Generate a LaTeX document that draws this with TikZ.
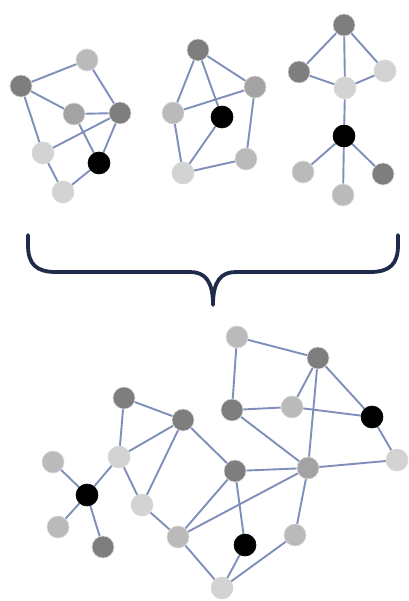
\documentclass[tikz,border=0pt]{standalone}
\usetikzlibrary{backgrounds}
\definecolor{edgeblue}{HTML}{7F8FBA}
\definecolor{bracenavy}{HTML}{1E2B4B}
\definecolor{gdark}{HTML}{7E7E7E}
\definecolor{gmid}{HTML}{A3A3A3}
\definecolor{glight}{HTML}{BABABA}
\definecolor{gpale}{HTML}{D3D3D3}
\tikzset{
  vtx/.style={circle, minimum size=22pt, inner sep=0pt, draw=white!85!black, line width=0.6pt},
  vdark/.style={vtx, fill=gdark},
  vmid/.style={vtx, fill=gmid},
  vlight/.style={vtx, fill=glight},
  vpale/.style={vtx, fill=gpale},
  vblack/.style={vtx, fill=black, draw=black},
  link/.style={draw=edgeblue, line width=1.9pt},
  bracket/.style={draw=bracenavy, line width=3.8pt, line cap=round, line join=round}
}
\begin{document}
\begin{tikzpicture}[x=1pt,y=-1pt]
\useasboundingbox (0,0) rectangle (408,601);

% ---- first small graph
\node[vlight] (A) at (87,60) {};
\node[vdark]  (B) at (21,86) {};
\node[vmid]   (C) at (74,114) {};
\node[vdark]  (D) at (120,113) {};
\node[vpale]  (E) at (43,153) {};
\node[vblack] (F) at (99,163) {};
\node[vpale]  (G) at (63,192) {};

% ---- second small graph
\node[vdark]  (H) at (198,50) {};
\node[vmid]   (I) at (255,87) {};
\node[vlight] (J) at (173,113) {};
\node[vblack] (K) at (222,117) {};
\node[vlight] (L) at (246,159) {};
\node[vpale]  (M) at (183,173) {};

% ---- third small graph
\node[vdark]  (N) at (344,25) {};
\node[vdark]  (O) at (299,72) {};
\node[vpale]  (P) at (385,71) {};
\node[vpale]  (Q) at (345,88) {};
\node[vblack] (R) at (344,136) {};
\node[vlight] (S) at (303,172) {};
\node[vlight] (T) at (343,195) {};
\node[vdark]  (U) at (383,174) {};

% ---- combined graph
\node[vlight] (a) at (53,462) {};
\node[vblack] (b) at (87,495) {};
\node[vlight] (c) at (58,527) {};
\node[vdark]  (d) at (103,547) {};
\node[vpale]  (e) at (119,457) {};
\node[vdark]  (f) at (124,398) {};
\node[vdark]  (g) at (183,420) {};
\node[vpale]  (h) at (142,505) {};
\node[vlight] (i) at (178,537) {};
\node[vpale]  (j) at (222,588) {};
\node[vlight] (k) at (237,337) {};
\node[vdark]  (l) at (318,358) {};
\node[vdark]  (m) at (232,410) {};
\node[vlight] (n) at (292,407) {};
\node[vblack] (o) at (372,417) {};
\node[vpale]  (p) at (397,460) {};
\node[vdark]  (q) at (235,471) {};
\node[vmid]   (r) at (308,468) {};
\node[vblack] (s) at (245,545) {};
\node[vlight] (t) at (295,535) {};

\begin{scope}[on background layer]
  \fill[white] (0,0) rectangle (408,601);
  % first graph
  \path[link] (B) -- (A) (A) -- (D) (B) -- (C) (C) -- (D) (B) -- (E)
              (E) -- (D) (C) -- (F) (D) -- (F) (E) -- (G) (G) -- (F);
  % second graph
  \path[link] (H) -- (I) (H) -- (J) (H) -- (K) (J) -- (I) (I) -- (L)
              (J) -- (M) (M) -- (K) (M) -- (L);
  % third graph
  \path[link] (N) -- (O) (N) -- (P) (N) -- (Q) (O) -- (Q) (P) -- (Q)
              (Q) -- (R) (R) -- (S) (R) -- (T) (R) -- (U);
  % combined graph
  \path[link] (a) -- (b) (b) -- (c) (b) -- (d) (b) -- (e)
              (e) -- (f) (e) -- (g) (f) -- (g) (e) -- (h)
              (g) -- (h) (g) -- (q) (h) -- (i) (i) -- (q) (i) -- (r) (i) -- (j)
              (q) -- (r) (q) -- (s) (s) -- (j) (t) -- (j) (r) -- (t)
              (r) -- (p) (r) -- (l) (m) -- (r) (m) -- (n) (n) -- (o)
              (k) -- (m) (k) -- (l) (l) -- (n) (l) -- (o) (o) -- (p);
\end{scope}

% curly brace joining the three graphs
\path[bracket] (28,235) -- (28,245) .. controls (28,264) and (36,272) .. (56,272)
  -- (190,272) .. controls (205,272) and (213,281) .. (213,305)
  .. controls (213,281) and (221,272) .. (236,272)
  -- (370,272) .. controls (390,272) and (398,264) .. (398,245) -- (398,235);
\end{tikzpicture}
\end{document}
